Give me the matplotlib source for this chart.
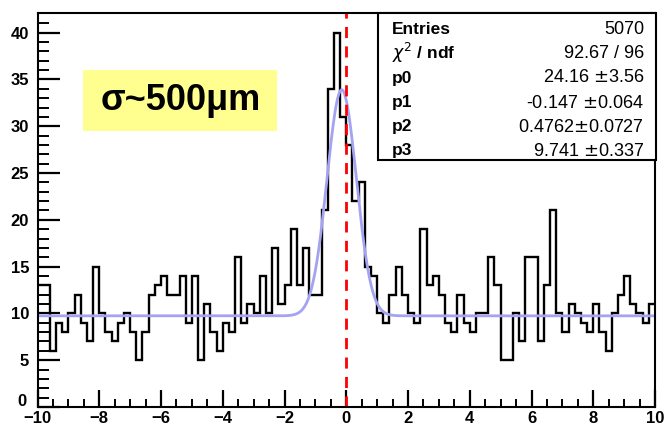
import numpy as np
import matplotlib
matplotlib.use("Agg")
import matplotlib.pyplot as plt
from matplotlib.patches import Rectangle
from matplotlib.transforms import ScaledTranslation

# histogram contents, 100 bins from -10 to 10
counts = [13, 13, 6, 9, 8, 10, 12, 9, 7, 15,
          10, 8, 7, 9, 10, 8, 5, 8, 12, 13,
          14, 12, 12, 14, 9, 14, 5, 11, 8, 6,
          9, 8, 16, 9, 11, 10, 14, 10, 17, 11,
          13, 19, 13, 17, 12, 12, 21, 34, 40, 31,
          28, 22, 24, 15, 14, 10, 9, 12, 15, 12,
          10, 9, 19, 13, 14, 12, 9, 8, 12, 9,
          8, 10, 10, 16, 13, 5, 5, 10, 7, 16,
          16, 7, 13, 21, 10, 8, 11, 10, 9, 8,
          11, 8, 6, 10, 12, 14, 11, 10, 9, 11]
x_range = (-10, 10)

# gaussian + constant fit parameters (from the stats box)
fit_pars = [24.16, -0.147, 0.4762, 9.741]
stat_labels = ["Entries", r"$\chi^{2}$ / ndf", "p0", "p1", "p2", "p3"]
stat_values = ["5070", "92.67 / 96", "24.16 $\\pm$3.56", "-0.147 $\\pm$0.064",
               "0.4762$\\pm$0.0727", "9.741 $\\pm$0.337"]
note = "\u03c3~500\u03bcm"

W, H = 664, 428
fig = plt.figure(figsize=(W / 100, H / 100), dpi=100)
plt.rcParams["font.family"] = ["Liberation Sans", "DejaVu Sans"]


def fx(px):
    return px / W


def fy(py):
    return 1 - py / H


ax = fig.add_axes([fx(37.5), fy(407), fx(655) - fx(37.5), fy(13) - fy(407)])
edges = np.linspace(x_range[0], x_range[1], len(counts) + 1)
ax.stairs(counts, edges, color="black", lw=1.7, baseline=None)

p0, p1, p2, p3 = fit_pars
xf = np.linspace(x_range[0], x_range[1], 1000)
ax.plot(xf, p0 * np.exp(-0.5 * ((xf - p1) / p2) ** 2) + p3, color="#a3a3f2", lw=2)
ax.axvline(0, color="red", ls=(0, (4, 3)), lw=2)

ax.set_xlim(*x_range)
ax.set_ylim(0, 42.1)
ax.set_xticks(np.arange(-10, 11, 2))
ax.set_xticks(np.arange(-10, 10.1, 0.5), minor=True)
ax.set_yticks(np.arange(0, 41, 5))
ax.set_yticks(np.arange(0, 42, 1), minor=True)
ax.tick_params(which="both", direction="in", top=False, right=False, colors="black")
ax.tick_params(axis="y", which="major", length=16, width=1.6, pad=6)
ax.tick_params(axis="y", which="minor", length=8, width=1.4)
ax.tick_params(axis="x", which="major", length=12, width=1.6, pad=3)
ax.tick_params(axis="x", which="minor", length=6, width=1.4)
for lab in ax.get_xticklabels() + ax.get_yticklabels():
    lab.set_fontsize(12)
    lab.set_fontweight("bold")
# the y "0" sits just above the x "-10" in the corner
y0 = ax.get_yticklabels()[0]
y0.set_transform(y0.get_transform() + ScaledTranslation(-2 / 72, 5 / 72, fig.dpi_scale_trans))
for s in ax.spines.values():
    s.set_linewidth(1.5)

# yellow note box
fig.add_artist(Rectangle((fx(83), fy(131)), fx(277) - fx(83), fy(70) - fy(131),
                         transform=fig.transFigure, facecolor="#ffff90", edgecolor="none"))
fig.text(fx(181), fy(101), note, fontsize=26, fontweight="bold", ha="center", va="center")

# stats box
fig.add_artist(Rectangle((fx(378), fy(160)), fx(656) - fx(378), fy(13) - fy(160),
                         transform=fig.transFigure, facecolor="white",
                         edgecolor="black", lw=1.5, zorder=5))
rows_y = [29, 53, 78, 103, 127, 151]
for lab, val, yy in zip(stat_labels, stat_values, rows_y):
    fig.text(fx(392), fy(yy), lab, fontsize=12.5, fontweight="bold",
             ha="left", va="center", zorder=6)
    fig.text(fx(644), fy(yy), val, fontsize=13, ha="right", va="center", zorder=6)

fig.savefig("out.png", dpi=100)
